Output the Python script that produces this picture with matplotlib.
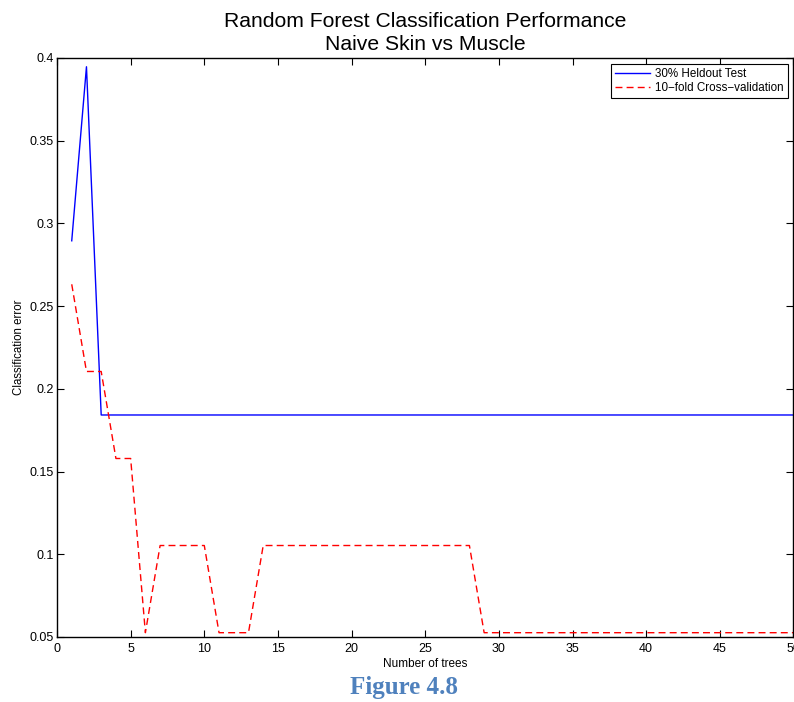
import matplotlib
matplotlib.use('Agg')
import matplotlib.pyplot as plt
import matplotlib.ticker as ticker

#%% Data
n_trees = list(range(1, 51))

# 30% heldout test error
heldout_err = [0.2895, 0.3947] + [0.1842] * 48

# 10-fold cross-validation error
cv_err = ([0.2632, 0.2105, 0.2105, 0.1579, 0.1579, 0.0526]
          + [0.1053] * 4
          + [0.0526] * 3
          + [0.1053] * 15
          + [0.0526] * 22)

#%% Plot setup
plt.rcParams['font.family'] = ['Liberation Sans', 'DejaVu Sans']

fig = plt.figure(figsize=(7.94, 7.02), dpi=100)
ax = fig.add_axes([0.0718, 0.0926, 0.9275, 0.8248])

ax.plot(n_trees, heldout_err, color='#0000FF', linewidth=1.0,
        label='30% Heldout Test')
ax.plot(n_trees, cv_err, color='#FF0000', linewidth=1.0,
        linestyle=(0, (5, 3)), label='10\u2212fold Cross\u2212validation')

ax.set_xlim(0, 50)
ax.set_ylim(0.05, 0.4)
ax.xaxis.set_major_locator(ticker.MultipleLocator(5))
ax.yaxis.set_major_locator(ticker.MultipleLocator(0.05))
ax.yaxis.set_major_formatter(ticker.FuncFormatter(lambda v, p: f'{v:g}'))

# MATLAB style box with inward ticks on all sides
ax.tick_params(direction='in', top=True, right=True, length=5,
               width=0.8, labelsize=9)
ax.tick_params(axis='y', pad=2.5)
ax.tick_params(axis='x', pad=4)
for s in ax.spines.values():
    s.set_linewidth(1.0)

ax.set_xlabel('Number of trees', fontsize=8.5, labelpad=2.5)
ax.set_ylabel('Classification error', fontsize=8.3, labelpad=3)
ax.set_title('Random Forest Classification Performance\nNaive Skin vs Muscle',
             fontsize=15.2, pad=6, linespacing=1.25)

leg = ax.legend(loc='upper right', fontsize=8.4, fancybox=False,
                framealpha=1, edgecolor='black', borderaxespad=0.5,
                handlelength=3.0, handletextpad=0.45,
                borderpad=0.35, labelspacing=0.2)
leg.get_frame().set_linewidth(0.8)

fig.text(0.509, 0.012, 'Figure 4.8', ha='center', va='baseline',
         fontsize=18, fontweight='bold', color='#4F81BD',
         family=['Liberation Serif', 'DejaVu Serif'])

fig.savefig('out.png', dpi=100)
